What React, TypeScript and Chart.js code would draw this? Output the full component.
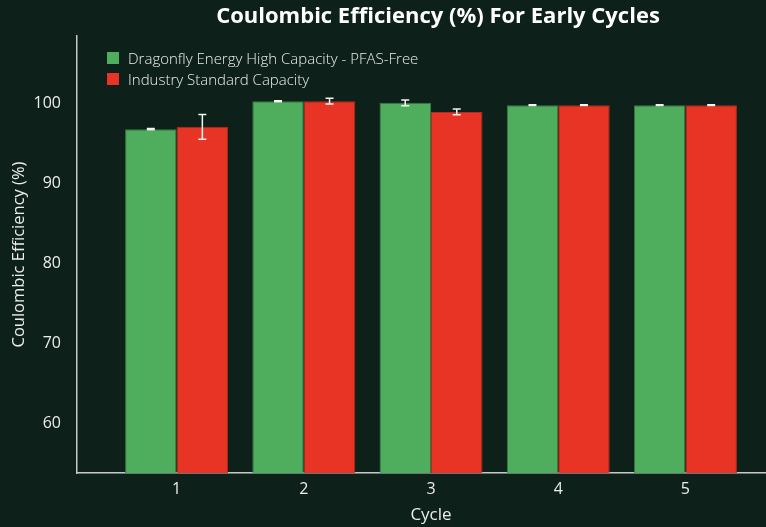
import React, { useEffect, useRef } from "react";
import { Chart, registerables } from "chart.js";

Chart.register(...registerables);

// ---- data ----
const cycles = [1, 2, 3, 4, 5];
const seriesNames = ["Dragonfly Energy High Capacity - PFAS-Free", "Industry Standard Capacity"];
const dragonflyValues = [96.75, 100.25, 100.04, 99.75, 99.75];
const dragonflyErrors = [0.07, 0.06, 0.35, 0.04, 0.04];
const industryValues = [97.04, 100.25, 98.91, 99.75, 99.75];
const industryErrors = [1.54, 0.35, 0.37, 0.04, 0.04];
const yTicks = [60, 70, 80, 90, 100];

const chartTitle = "Coulombic Efficiency (%) For Early Cycles";
const xTitle = "Cycle";
const yTitle = "Coulombic Efficiency (%)";

// ---- style ----
const BG = "#0d2019";
const GREEN = "#4fae5e";
const GREEN_EDGE = "#357a42";
const RED = "#e83425";
const RED_EDGE = "#b52a1f";
const TEXT = "#ececec";
const AXIS = "#c9c9c9";
const FONT = "'Open Sans', sans-serif";

const allErrors = [dragonflyErrors, industryErrors];

const errorBarPlugin = {
  id: "errorBars",
  afterLayout(chart: any) {
    // centre the title over the full (wider) canvas rather than the padded area
    const t = chart.titleBlock;
    if (t) {
      t.left = 0;
      t.right = chart.width;
      t.width = chart.width;
    }
  },
  afterDatasetsDraw(chart: any) {
    const ctx = chart.ctx;
    const yScale = chart.scales.y;
    chart.data.datasets.forEach((ds: any, i: number) => {
      const meta = chart.getDatasetMeta(i);
      const errs = allErrors[i];
      meta.data.forEach((bar: any, j: number) => {
        const v = ds.data[j].y;
        const e = errs[j];
        const x = bar.x;
        const top = yScale.getPixelForValue(v + e);
        const bot = yScale.getPixelForValue(v - e);
        ctx.save();
        ctx.strokeStyle = "#f4f4f4";
        ctx.lineWidth = 1.5;
        ctx.beginPath();
        ctx.moveTo(x, top);
        ctx.lineTo(x, bot);
        ctx.moveTo(x - 4, top);
        ctx.lineTo(x + 4, top);
        ctx.moveTo(x - 4, bot);
        ctx.lineTo(x + 4, bot);
        ctx.stroke();
        ctx.restore();
      });
    });
  },
};

export default function App() {
  const canvasRef = useRef<HTMLCanvasElement | null>(null);

  useEffect(() => {
    document.body.style.background = BG;
    const canvas = canvasRef.current;
    if (!canvas) return;
    const chart = new Chart(canvas, {
      type: "bar",
      data: {
        datasets: [
          {
            label: seriesNames[0],
            data: cycles.map((c, i) => ({ x: c, y: dragonflyValues[i] })),
            backgroundColor: GREEN,
            borderColor: GREEN_EDGE,
            borderWidth: 1,
          },
          {
            label: seriesNames[1],
            data: cycles.map((c, i) => ({ x: c, y: industryValues[i] })),
            backgroundColor: RED,
            borderColor: RED_EDGE,
            borderWidth: 1,
          },
        ],
      },
      plugins: [errorBarPlugin],
      options: {
        animation: false,
        responsive: false,
        devicePixelRatio: 1,
        layout: { padding: { left: 0, right: 91, top: 0, bottom: 0 } },
        datasets: {
          bar: { categoryPercentage: 0.81, barPercentage: 1.0 },
        },
        plugins: {
          legend: { display: false },
          tooltip: { enabled: false },
          title: {
            display: true,
            text: chartTitle,
            color: "#ffffff",
            font: { family: FONT, size: 22, weight: "bold" },
            padding: { top: 4, bottom: 5.6 },
          },
        },
        scales: {
          x: {
            type: "linear",
            min: 0.217,
            max: 5.783,
            offset: false,
            grid: { display: false, drawTicks: false },
            border: { display: true, color: AXIS, width: 1.5 },
            afterBuildTicks: (scale: any) => {
              scale.ticks = cycles.map((v) => ({ value: v }));
            },
            afterFit: (scale: any) => {
              scale.height = 54;
            },
            ticks: {
              color: TEXT,
              font: { family: FONT, size: 16 },
              padding: 7,
              autoSkip: false,
              maxRotation: 0,
            },
            title: {
              display: true,
              text: xTitle,
              color: TEXT,
              font: { family: FONT, size: 17 },
              padding: { top: 0, bottom: 2 },
            },
          },
          y: {
            type: "linear",
            min: 53.75,
            max: 108.4,
            grid: { display: false, drawTicks: false },
            border: { display: true, color: AXIS, width: 1.5 },
            afterBuildTicks: (scale: any) => {
              scale.ticks = yTicks.map((v) => ({ value: v }));
            },
            afterFit: (scale: any) => {
              scale.width = 77;
            },
            ticks: {
              color: TEXT,
              font: { family: FONT, size: 16 },
              padding: 16,
            },
            title: {
              display: true,
              text: yTitle,
              color: TEXT,
              font: { family: FONT, size: 16.5 },
              padding: { top: 9, bottom: 0 },
            },
          },
        },
      },
    } as any);
    return () => chart.destroy();
  }, []);

  const legendRow = (color: string, label: string, top: number) => (
    <div
      style={{
        position: "absolute",
        left: 107,
        top,
        display: "flex",
        alignItems: "center",
        height: 20,
      }}
    >
      <span style={{ width: 12, height: 12, background: color, display: "inline-block" }} />
      <span
        style={{
          marginLeft: 9,
          color: TEXT,
          fontFamily: FONT,
          fontSize: 15,
          fontWeight: 300,
          whiteSpace: "nowrap",
        }}
      >
        {label}
      </span>
    </div>
  );

  return (
    <div
      style={{
        position: "fixed",
        left: 0,
        top: 0,
        width: 766,
        height: 527,
        overflow: "hidden",
        background: BG,
      }}
    >
      <canvas ref={canvasRef} width={876} height={527} style={{ display: "block" }} />
      {legendRow(GREEN, seriesNames[0], 47.5)}
      {legendRow(RED, seriesNames[1], 69)}
    </div>
  );
}
